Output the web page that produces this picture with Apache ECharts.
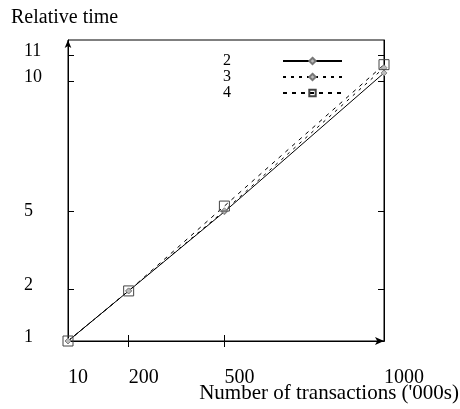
<!DOCTYPE html>
<html>
<head>
<meta charset="utf-8">
<script src="https://cdn.jsdelivr.net/npm/echarts@6/dist/echarts.min.js"></script>
<style>html,body{margin:0;padding:0;background:#fff}#chart{width:460px;height:409px}</style>
</head>
<body>
<div id="chart"></div>
<script>
// x positions (thousands of transactions)
const xValues = [10, 200, 500, 1000];
const xLabelValues = [10, 200, 500, 1000];
const xTickValues = [200, 500];
// series, in the plot's linear axis units (origin labelled "1")
const seriesNames = ['2', '3', '4'];
const series2 = [0, 1.93, 4.98, 10.33];
const series3 = [0, 1.93, 5.02, 10.53];
const series4 = [0, 1.93, 5.2, 10.65];
// y tick positions and their printed labels
const yTickValues = [0, 2, 5, 10, 11];
const yTickLabels = ['1', '2', '5', '10', '11'];
const yInnerTicks = [2, 5, 10, 11];
const xTitle = "Number of transactions ('000s)";
const yTitle = 'Relative time';

const FONT = '"Liberation Serif", "DejaVu Serif", serif';
const chart = echarts.init(document.getElementById('chart'), null, {renderer: 'canvas'});

function pairs(ys) { return xValues.map((x, i) => [x, ys[i]]); }

const diamondStyle = {color: '#bbb', borderColor: '#777', borderWidth: 0.8};
const rectStyle = {color: 'rgba(0,0,0,0)', borderColor: '#444', borderWidth: 1};

chart.setOption({
  animation: false,
  backgroundColor: '#fff',
  title: [
    {text: yTitle, left: 11, top: 8, padding: 0,
     textStyle: {fontFamily: FONT, fontSize: 20, fontWeight: 'normal', color: '#000'}},
    {text: xTitle, right: 1, top: 383, padding: 0,
     textStyle: {fontFamily: FONT, fontSize: 21, fontWeight: 'normal', color: '#000'}}
  ],
  legend: {
    orient: 'vertical', left: 223, top: 53, padding: 0,
    align: 'right', itemWidth: 59, itemHeight: 8, itemGap: 0,
    data: seriesNames,
    formatter: name => '{t|' + name + '}',
    textStyle: {fontFamily: FONT, fontSize: 16, color: '#000', lineHeight: 15,
      rich: {t: {width: 55, align: 'left', fontFamily: FONT, fontSize: 16, lineHeight: 15}}}
  },
  grid: {left: 68, top: 40, right: 76, bottom: 68, show: true, borderColor: '#000', borderWidth: 1, containLabel: false},
  xAxis: [
    {type: 'value', min: 10, max: 1000, position: 'bottom',
     axisLine: {show: true, symbol: ['none', 'arrow'], symbolSize: [6, 9], lineStyle: {color: '#000', width: 1}},
     axisTick: {show: true, inside: true, length: 6, customValues: xTickValues, lineStyle: {color: '#000'}},
     axisLabel: {show: true, customValues: xLabelValues, align: 'left', margin: 27,
       fontFamily: FONT, fontSize: 20, color: '#000', formatter: v => String(v)},
     splitLine: {show: false}},
    {type: 'value', min: 10, max: 1000, position: 'top',
     axisLine: {show: true, lineStyle: {color: '#000'}},
     axisTick: {show: true, inside: true, length: 6, customValues: xTickValues, lineStyle: {color: '#000'}},
     axisLabel: {show: false}, splitLine: {show: false}}
  ],
  yAxis: [
    {type: 'value', min: 0, max: 11.6, position: 'left',
     axisLine: {show: true, symbol: ['none', 'arrow'], symbolSize: [5, 8], lineStyle: {color: '#000', width: 1}},
     axisTick: {show: true, inside: true, length: 6, customValues: yInnerTicks, lineStyle: {color: '#000'}},
     axisLabel: {show: true, customValues: yTickValues, align: 'left', margin: 44,
       fontFamily: FONT, fontSize: 18, color: '#000',
       formatter: v => {
         const i = yTickValues.indexOf(v);
         if (i < 0) return '';
         return (v === 5 ? '{c|' : '{u|') + yTickLabels[i] + '}';
       },
       rich: {
         u: {fontFamily: FONT, fontSize: 18, color: '#000', padding: [0, 0, 8, 0]},
         c: {fontFamily: FONT, fontSize: 18, color: '#000'}
       }},
     splitLine: {show: false}},
    {type: 'value', min: 0, max: 11.6, position: 'right',
     axisLine: {show: true, lineStyle: {color: '#000'}},
     axisTick: {show: true, inside: true, length: 6, customValues: yInnerTicks, lineStyle: {color: '#000'}},
     axisLabel: {show: false}, splitLine: {show: false}}
  ],
  series: [
    {name: seriesNames[0], type: 'line', data: pairs(series2), symbol: 'diamond', symbolSize: 6,
     lineStyle: {color: '#000', width: 1, type: 'solid'}, itemStyle: diamondStyle, z: 3},
    {name: seriesNames[1], type: 'line', data: pairs(series3), symbol: 'diamond', symbolSize: 6,
     lineStyle: {color: '#000', width: 1, type: [3, 5]}, itemStyle: diamondStyle, z: 3},
    {name: seriesNames[2], type: 'line', data: pairs(series4), symbol: 'rect', symbolSize: 10,
     lineStyle: {color: '#000', width: 1, type: [4, 5]}, itemStyle: rectStyle, z: 3}
  ]
});
</script>
</body>
</html>
